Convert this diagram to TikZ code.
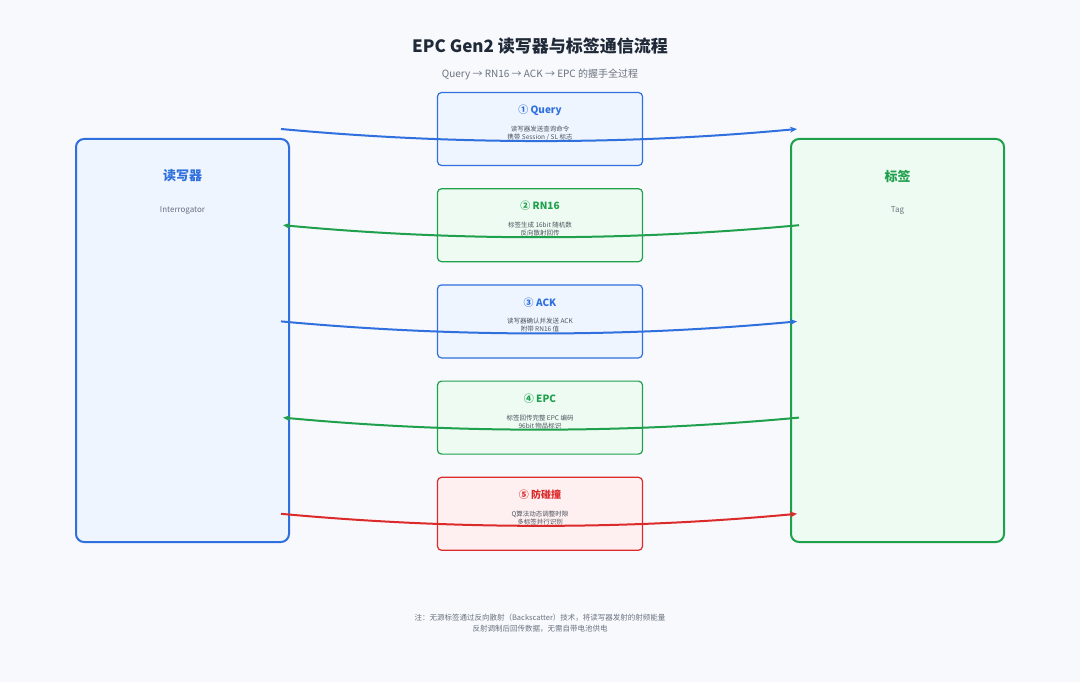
\documentclass[tikz,border=0pt]{standalone}
\usepackage{fontspec}
\setmainfont{Noto Sans CJK SC}
\usetikzlibrary{arrows.meta,positioning}

\definecolor{bgc}{HTML}{F7F9FC}
\definecolor{ink}{HTML}{1F2937}
\definecolor{mute}{HTML}{6B7280}
\definecolor{rblue}{HTML}{2F6FDE}
\definecolor{rbluefill}{HTML}{EEF5FF}
\definecolor{tgreen}{HTML}{1FA04C}
\definecolor{tgreenfill}{HTML}{EEFBF2}
\definecolor{cred}{HTML}{DC2A2A}
\definecolor{credfill}{HTML}{FEF0F0}

\begin{document}
\begin{tikzpicture}[x=1pt,y=-1pt,>={Stealth[length=7pt,width=6pt]},node distance=22pt,
  side node/.style={draw,line width=2pt,rounded corners=8pt,minimum width=213pt,minimum height=403pt},
  step node/.style={draw,line width=1.2pt,rounded corners=4pt,minimum width=205pt,minimum height=73pt},
  step title/.style={font=\fontsize{10}{12}\selectfont\bfseries},
  step text/.style={font=\fontsize{6.5}{8}\selectfont,text=ink!80,align=center},
  msg/.style={line width=2pt,->}]

  \fill[bgc] (0,0) rectangle (1080,682);
  \useasboundingbox (0,0) rectangle (1080,682);

  \node[font=\fontsize{17}{20}\selectfont\bfseries,text=ink] (title) at (540,46) {EPC Gen2 读写器与标签通信流程};
  \node[font=\fontsize{10}{12}\selectfont,text=mute] (sub) at (540,74) {Query → RN16 → ACK → EPC 的握手全过程};

  % reader and tag
  \node[side node,draw=rblue,fill=rbluefill] (reader) at (182.5,340.5) {};
  \node[side node,draw=tgreen,fill=tgreenfill] (tag) at (897.5,340.5) {};
  \node[font=\fontsize{13}{15}\selectfont\bfseries,text=rblue] at ([yshift=-38pt]reader.north) {读写器};
  \node[font=\fontsize{8}{10}\selectfont,text=mute] at ([yshift=-73pt]reader.north) {Interrogator};
  \node[font=\fontsize{13}{15}\selectfont\bfseries,text=tgreen] at ([yshift=-38pt]tag.north) {标签};
  \node[font=\fontsize{8}{10}\selectfont,text=mute] at ([yshift=-73pt]tag.north) {Tag};

  % steps
  \node[step node,draw=rblue,fill=rbluefill] (query) at (540,129) {};
  \node[step node,draw=tgreen,fill=tgreenfill] (rn) [below=of query] {};
  \node[step node,draw=rblue,fill=rbluefill] (ack) [below=of rn] {};
  \node[step node,draw=tgreen,fill=tgreenfill] (epc) [below=of ack] {};
  \node[step node,draw=cred,fill=credfill] (anti) [below=of epc] {};

  \node[step title,text=rblue] at ([yshift=-18pt]query.north) {① Query};
  \node[step text] at ([yshift=-4pt]query.center) {读写器发送查询命令\\携带 Session / SL 标志};
  \node[step title,text=tgreen] at ([yshift=-18pt]rn.north) {② RN16};
  \node[step text] at ([yshift=-4pt]rn.center) {标签生成 16bit 随机数\\反向散射回传};
  \node[step title,text=rblue] at ([yshift=-18pt]ack.north) {③ ACK};
  \node[step text] at ([yshift=-4pt]ack.center) {读写器确认并发送 ACK\\附带 RN16 值};
  \node[step title,text=tgreen] at ([yshift=-18pt]epc.north) {④ EPC};
  \node[step text] at ([yshift=-4pt]epc.center) {标签回传完整 EPC 编码\\96bit 物品标识};
  \node[step title,text=cred] at ([yshift=-18pt]anti.north) {⑤ 防碰撞};
  \node[step text] at ([yshift=-4pt]anti.center) {Q算法动态调整时隙\\多标签并行识别};

  % messages
  \draw[msg,rblue] ([xshift=-9pt]reader.east |- query) .. controls ([xshift=-86pt,yshift=-16pt]query.center) and ([xshift=86pt,yshift=-16pt]query.center) .. ([xshift=7pt]tag.west |- query);
  \draw[msg,tgreen] ([xshift=9pt]tag.west |- rn) .. controls ([xshift=86pt,yshift=-16pt]rn.center) and ([xshift=-86pt,yshift=-16pt]rn.center) .. ([xshift=-7pt]reader.east |- rn);
  \draw[msg,rblue] ([xshift=-9pt]reader.east |- ack) .. controls ([xshift=-86pt,yshift=-16pt]ack.center) and ([xshift=86pt,yshift=-16pt]ack.center) .. ([xshift=7pt]tag.west |- ack);
  \draw[msg,tgreen] ([xshift=9pt]tag.west |- epc) .. controls ([xshift=86pt,yshift=-16pt]epc.center) and ([xshift=-86pt,yshift=-16pt]epc.center) .. ([xshift=-7pt]reader.east |- epc);
  \draw[msg,cred] ([xshift=-9pt]reader.east |- anti) .. controls ([xshift=-86pt,yshift=-16pt]anti.center) and ([xshift=86pt,yshift=-16pt]anti.center) .. ([xshift=7pt]tag.west |- anti);

  \node[font=\fontsize{7.5}{11}\selectfont,text=mute,align=center] (note) at (540,623.5) {注：无源标签通过反向散射（Backscatter）技术，将读写器发射的射频能量\\反射调制后回传数据，无需自带电池供电};
\end{tikzpicture}
\end{document}
